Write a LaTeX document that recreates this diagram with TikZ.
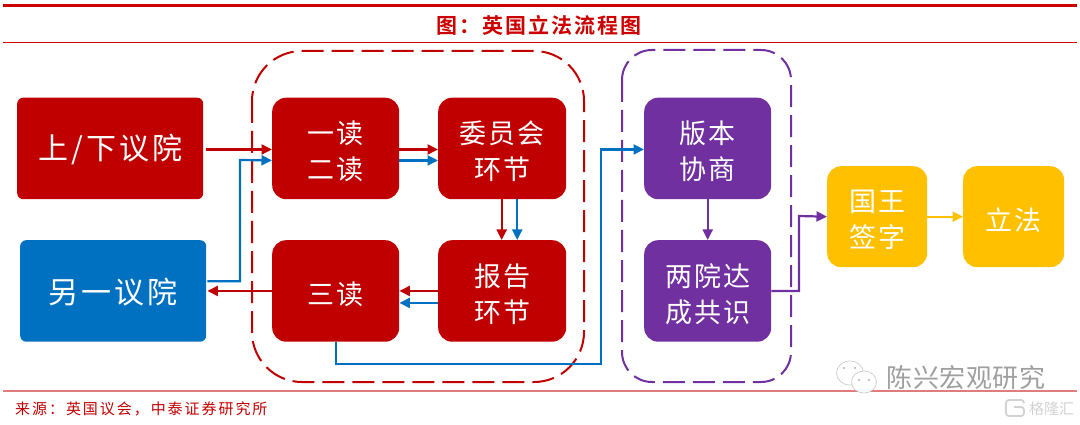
\documentclass[tikz,border=0pt]{standalone}
\usepackage{fontspec}
\usetikzlibrary{arrows.meta,calc}
\newfontfamily\cjk{Noto Sans CJK SC}
\newfontfamily\cjkb{Noto Sans CJK SC Bold}
\definecolor{cred}{HTML}{C00000}
\definecolor{cblue}{HTML}{0070C0}
\definecolor{cpurple}{HTML}{7030A0}
\definecolor{cyellow}{HTML}{FFC000}
\definecolor{lred}{HTML}{CC0000}
\definecolor{pinkline}{HTML}{E07C7C}
\tikzset{
  box/.style={draw=none,inner sep=0pt,anchor=north west,rounded corners=#1},
  box/.default=14pt,
  big/.style={inner sep=0pt,text=white,yshift=-1pt,font=\cjk\fontsize{30}{36}\selectfont\addfontfeature{LetterSpace=10}},
  mid/.style={inner sep=0pt,text=white,align=center,yshift=-3pt,font=\cjk\fontsize{27}{36}\selectfont\addfontfeature{LetterSpace=8}},
  conn/.style={line width=2.2pt,-{Triangle[length=10.5pt,width=10pt]}},
  group/.style={line width=2pt,dash pattern=on 22pt off 8pt}
}
\begin{document}
\begin{tikzpicture}[x=1pt,y=-1pt]
\useasboundingbox (0,0) rectangle (1080,425);
% rules
\coordinate (t1) at (3,5.5); \coordinate (t2) at (1077,5.5);
\coordinate (t3) at (3,42.5); \coordinate (t4) at (1077,42.5);
\coordinate (b1) at (3,391); \coordinate (b2) at (1077,391);
\draw[lred,line width=3.4pt] (t1) -- (t2);
\draw[lred,line width=1pt] (t3) -- (t4);
\draw[pinkline,line width=1.6pt] (b1) -- (b2);
\node[text=lred,inner sep=0pt,font=\cjkb\fontsize{21}{24}\selectfont\addfontfeature{LetterSpace=10}] (title) at (539,25) {图^^^^ff1a英国立法流程图};
\node[text=cred,inner sep=0pt,anchor=west,font=\cjk\fontsize{15}{18}\selectfont\addfontfeature{LetterSpace=13}] (source) at (15,409) {来源^^^^ff1a英国议会^^^^ff0c中泰证券研究所};
% dashed groups
\draw[cred,group,rounded corners=50pt] (252,51) rectangle (584,382);
\draw[cpurple,group,rounded corners=30pt] (622,50) rectangle (791,382);
% boxes
\node[box=6pt,fill=cred,minimum width=186pt,minimum height=101.5pt,label={[big]center:上/下议院}] (house) at (17,97.5) {};
\node[box=6pt,fill=cblue,minimum width=186pt,minimum height=101.5pt,label={[big]center:另一议院}] (other) at (20,240) {};
\node[box,fill=cred,minimum width=127pt,minimum height=101.5pt,label={[mid]center:{一读\\二读}}] (read12) at (272,97.5) {};
\node[box,fill=cred,minimum width=128pt,minimum height=101.5pt,label={[mid]center:{委员会\\环节}}] (comm) at (438,97.5) {};
\node[box,fill=cred,minimum width=127pt,minimum height=101.5pt,label={[mid]center:三读}] (read3) at (272,240) {};
\node[box,fill=cred,minimum width=128pt,minimum height=101.5pt,label={[mid]center:{报告\\环节}}] (report) at (438,240) {};
\node[box,fill=cpurple,minimum width=127pt,minimum height=101.5pt,label={[mid]center:{版本\\协商}}] (ver) at (644,97.5) {};
\node[box,fill=cpurple,minimum width=127pt,minimum height=101.5pt,label={[mid]center:{两院达\\成共识}}] (both) at (644,240) {};
\node[box,fill=cyellow,minimum width=100pt,minimum height=101pt,label={[mid]center:{国王\\签字}}] (king) at (827,166) {};
\node[box,fill=cyellow,minimum width=101pt,minimum height=101pt,label={[mid]center:立法}] (law) at (963,166) {};
% connectors
\draw[conn,cred] ([yshift=-1pt,xshift=3pt]house.east) -- ([yshift=-1pt]read12.west);
\draw[conn,cblue] ([yshift=9.75pt,xshift=1pt]other.east) -| (240,160) -- ([yshift=-12pt]read12.west);
\draw[conn,cred] ([yshift=-1pt]read12.east) -- ([yshift=-1pt]comm.west);
\draw[conn,cblue] ([yshift=-12pt]read12.east) -- ([yshift=-12pt]comm.west);
\draw[conn,cred] ([xshift=-0.5pt]comm.south) -- ([xshift=-0.5pt]report.north);
\draw[conn,cblue] ([xshift=15pt]comm.south) -- ([xshift=15pt]report.north);
\draw[conn,cred] (report.west) -- (read3.east);
\draw[conn,cblue] ([yshift=-12pt]report.west) -- ([yshift=-12pt]read3.east);
\draw[conn,cred] (read3.west) -- ([xshift=1pt]other.east);
\draw[conn,cblue] (read3.south) |- (601,364) |- ([yshift=-1pt]ver.west);
\draw[conn,cpurple] (ver.south) -- (both.north);
\draw[conn,cpurple] (both.east) -| (799,216) -- (king.west);
\draw[conn,cyellow] (king.east) -- (law.west);
% watermark
\node[text=gray!75,inner sep=0pt,font=\cjk\fontsize{26}{30}\selectfont\addfontfeature{LetterSpace=2}] (mark) at (966,378) {陈兴宏观研究};
\draw[gray!40,fill=white,line width=0.7pt] (850,373) ellipse (13.5 and 12);
\draw[gray!40,fill=white,line width=0.7pt] (864,382) ellipse (12.5 and 11);
\foreach \p in {(844,368),(855,368),(859,380),(869,380)} \fill[gray!60] \p circle (1.1);
\draw[gray!35,rounded corners=3pt,line width=1.8pt] (1024,403) -- (1024,400) -- (1006,400) -- (1006,416) -- (1024,416) -- (1024,407) -- (1014,407);
\node[text=gray!35,inner sep=0pt,anchor=west,font=\cjk\fontsize{15}{18}\selectfont] (logo) at (1029,409) {格隆汇};
\end{tikzpicture}
\end{document}
